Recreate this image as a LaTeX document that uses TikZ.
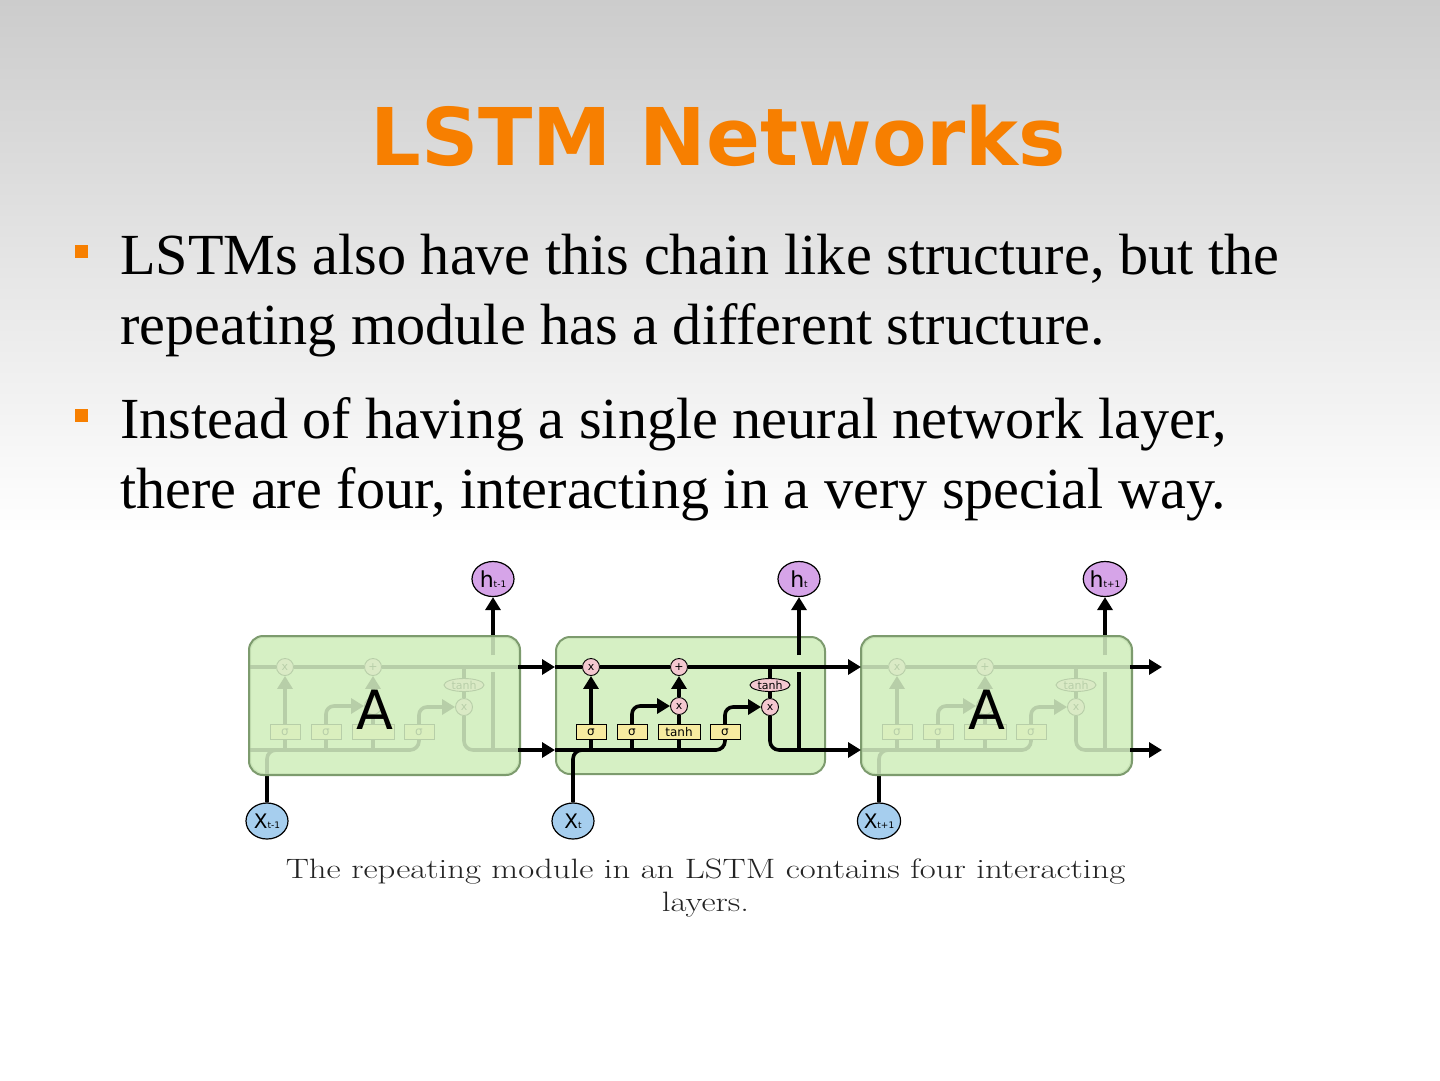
\documentclass[tikz,border=0pt]{standalone}
\usepackage{fontspec}
\newfontfamily\serifb{Liberation Serif}
\newfontfamily\dv{DejaVu Sans}
\usetikzlibrary{arrows.meta,shapes.geometric}
\definecolor{bgtop}{RGB}{204,204,204}
\definecolor{titleorange}{RGB}{247,127,0}
\definecolor{cellgreen}{RGB}{214,240,196}
\definecolor{cellborder}{RGB}{125,155,110}
\definecolor{oppink}{RGB}{244,200,208}
\definecolor{gateyellow}{RGB}{247,235,160}
\definecolor{hpurple}{RGB}{214,164,232}
\definecolor{xblue}{RGB}{166,206,238}
\definecolor{capgray}{RGB}{35,35,35}
\newcommand\gtlabel{tanh}
\newcommand\ixlabel{x}
\tikzset{
  wire/.style={line width=3.6pt, line join=round},
  arr/.style={wire, -{Triangle[length=13pt,width=15pt]}},
  opnode/.style={circle, draw, line width=0.9pt, fill=oppink, minimum size=17pt, inner sep=0pt, font=\dv\fontsize{11}{11}\selectfont},
  gatenode/.style={rectangle, draw, line width=0.9pt, fill=gateyellow, minimum height=15pt, inner sep=0pt, font=\dv\fontsize{12}{12}\selectfont},
  tanhe/.style={ellipse, draw, line width=0.9pt, fill=oppink, minimum width=40pt, minimum height=13pt, inner sep=0pt, font=\dv\fontsize{11}{11}\selectfont},
  cellbox/.style={rounded corners=14pt, line width=2pt, draw=cellborder, fill=cellgreen, minimum width=269pt, minimum height=137pt, anchor=north west, inner sep=0pt},
  overlay box/.style={rounded corners=14pt, line width=2pt, draw=cellborder, fill=cellgreen, fill opacity=0.86},
  hnode/.style={ellipse, draw, line width=1.2pt, fill=hpurple, minimum width=42pt, minimum height=35pt, inner sep=0pt},
  xnode/.style={ellipse, draw, line width=1.2pt, fill=xblue, minimum width=42pt, minimum height=36pt, inner sep=0pt},
  bigA/.style={font=\dv\fontsize{54}{54}\selectfont},
  bullettext/.style={anchor=base west, font=\serifb\fontsize{58.2}{70}\selectfont, inner sep=0pt},
  bulletsq/.style={fill=titleorange, minimum size=13pt, inner sep=0pt},
  captext/.style={anchor=base, text=capgray, inner sep=0pt},
  lstm/.pic={
    \coordinate (-tl) at (0,31);
    \coordinate (-tr) at (269,31);
    \coordinate (-bl) at (0,114);
    \coordinate (-br) at (269,114);
    \coordinate (-bx) at (50,114);
    \coordinate (-hb) at (244,19);
    \node[opnode] (-f) at (36,31) {x};
    \node[opnode] (-p) at (124,31) {+};
    \node[opnode] (-i) at (124,70) {\ixlabel};
    \node[tanhe] (-th) at (215,49) {tanh};
    \node[opnode] (-o) at (215,71) {x};
    \node[gatenode, minimum width=30pt] (-g1) at (36,96) {σ};
    \node[gatenode, minimum width=30pt] (-g2) at (77,96) {σ};
    \node[gatenode, minimum width=42pt] (-g3) at (124,96) {\gtlabel};
    \node[gatenode, minimum width=30pt] (-g4) at (170,96) {σ};
    \draw[wire] (-tl) -- (-f) -- (-p) -- (-tr);
    \draw[wire, rounded corners=9pt] (-bl) -| (-g4);
    \draw[wire] (-g1) -- (36,114);
    \draw[wire] (-g2) -- (77,114);
    \draw[wire] (-g3) -- (124,114);
    \draw[arr] (-g1) -- (-f);
    \draw[arr, rounded corners=8pt] (-g2.north) |- (-i.west);
    \draw[wire] (-g3) -- (-i);
    \draw[arr] (-i) -- (-p);
    \draw[arr, rounded corners=8pt] (-g4.north) |- (-o.west);
    \draw[wire] (215,31) -- (-th);
    \draw[wire] (-th) -- (-o);
    \draw[wire, rounded corners=9pt] (-o) |- (-br);
    \draw[wire] (244,114) -- (244,36);
  }
}
\begin{document}
\begin{tikzpicture}[x=1pt,y=-1pt]
\useasboundingbox (0,0) rectangle (1440,1080);
\fill[white] (0,0) rectangle (1440,1080);
\shade[top color=bgtop, bottom color=white] (0,0) rectangle (1440,535);

% title
\node[font=\dv\bfseries\fontsize{79.6}{80}\selectfont, text=titleorange, anchor=base, inner sep=0pt] (title) at (718.5,165) {LSTM Networks};

% bullets
\node[bulletsq] (b1) at (81.5,251.5) {};
\node[bullettext] (t1) at (120,274) {LSTMs also have this chain like structure, but the};
\node[bullettext] (t2) at (120,344) {repeating module has a different structure.};
\node[bulletsq] (b2) at (81.5,415.5) {};
\node[bullettext] (t3) at (120,438) {Instead of having a single neural network layer,};
\node[bullettext] (t4) at (120,508) {there are four, interacting in a very special way.};

% h and x nodes
\node[hnode] (h1) at (493,579) {\dv\fontsize{22}{22}\selectfont h\fontsize{9}{9}\selectfont t-1};
\node[hnode] (h2) at (799,579) {\dv\fontsize{22}{22}\selectfont h\fontsize{9}{9}\selectfont t};
\node[hnode] (h3) at (1105,579) {\dv\fontsize{22}{22}\selectfont h\fontsize{9}{9}\selectfont t+1};
\node[xnode] (x1) at (267,821) {\dv\fontsize{20}{20}\selectfont X\fontsize{9}{9}\selectfont t-1};
\node[xnode] (x2) at (573,821) {\dv\fontsize{20}{20}\selectfont X\fontsize{9}{9}\selectfont t};
\node[xnode] (x3) at (879,821) {\dv\fontsize{20}{20}\selectfont X\fontsize{9}{9}\selectfont t+1};

% cell 1 (faded; labels hidden behind the A are left out)
\renewcommand\gtlabel{}
\renewcommand\ixlabel{}
\node[cellbox] (box1) at (249,636) {};
\pic (c1) at (249,636) {lstm};
\draw[wire, rounded corners=9pt] (x1) |- (c1-bx);
\draw[arr] (c1-hb) -- (h1);
\path[overlay box] (box1.north west) rectangle (box1.south east);
\node[bigA] (A1) at (375,710) {A};

% cell 3 (faded)
\node[cellbox] (box3) at (861,636) {};
\pic (c3) at (861,636) {lstm};
\draw[wire, rounded corners=9pt] (x3) |- (c3-bx);
\draw[arr] (c3-hb) -- (h3);
\path[overlay box] (box3.north west) rectangle (box3.south east);
\node[bigA] (A3) at (987,710) {A};

% cell 2
\renewcommand\gtlabel{tanh}
\renewcommand\ixlabel{x}
\node[cellbox] (box2) at (555,636) {};
\pic (c2) at (555,636) {lstm};
\draw[wire, rounded corners=9pt] (x2) |- (c2-bx);
\draw[arr] (c2-hb) -- (h2);

% connectors between cells
\coordinate (e1) at (1162,667);
\coordinate (e2) at (1162,750);
\draw[arr] (c1-tr) -- (c2-tl);
\draw[arr] (c1-br) -- (c2-bl);
\draw[arr] (c2-tr) -- (c3-tl);
\draw[arr] (c2-br) -- (c3-bl);
\draw[arr] (c3-tr) -- (e1);
\draw[arr] (c3-br) -- (e2);

% caption
\node[captext] (cap1) at (705.5,878) {\scalebox{1.24}[1]{\fontsize{28}{28}\selectfont\addfontfeatures{FakeBold=0.8}The repeating module in an LSTM contains four interacting}};
\node[captext] (cap2) at (705.5,911) {\scalebox{1.24}[1]{\fontsize{28}{28}\selectfont\addfontfeatures{FakeBold=0.8}layers.}};
\end{tikzpicture}
\end{document}
